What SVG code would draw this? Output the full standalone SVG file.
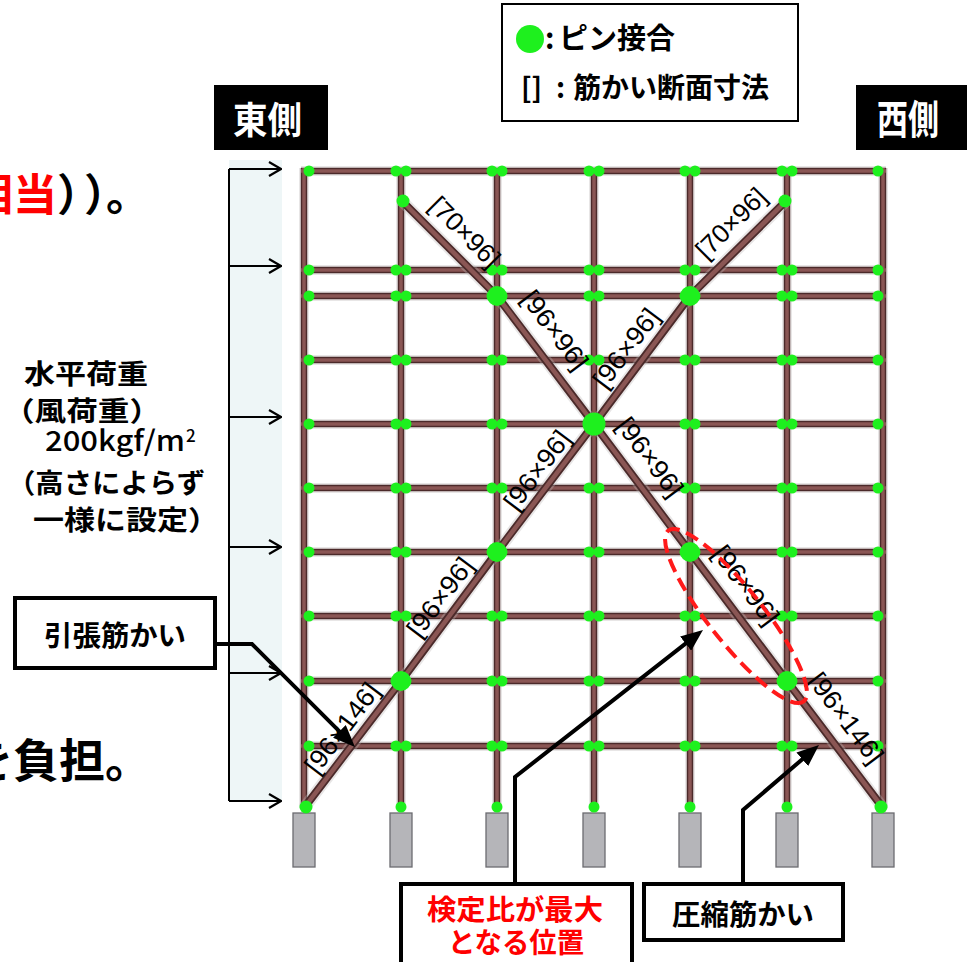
<svg xmlns="http://www.w3.org/2000/svg" xmlns:xlink="http://www.w3.org/1999/xlink" width="967" height="962" viewBox="0 0 967 962">
<style>
.jp{font-family:'Noto Sans CJK JP','Noto Sans CJK SC',sans-serif;font-weight:bold}
.lbl{font-family:'Liberation Sans',Arial,sans-serif;font-size:26px;fill:#000;text-anchor:middle}
.box{fill:#fff;stroke:#000;stroke-width:4}
.sup{fill:#b5b5b9;stroke:#6c6c70;stroke-width:1.3}
.ld{fill:none;stroke:#000;stroke-width:4;stroke-linejoin:miter}
.la{fill:none;stroke:#000;stroke-width:2}
</style>
<defs>
<marker id="open" viewBox="0 0 14 16" refX="13" refY="8" markerWidth="14" markerHeight="16" markerUnits="userSpaceOnUse" orient="auto"><path d="M1,1 L13,8 L1,15" fill="none" stroke="#000" stroke-width="2.2"/></marker>
<marker id="solid" viewBox="0 0 22 18" refX="12" refY="9" markerWidth="22" markerHeight="18" markerUnits="userSpaceOnUse" orient="auto"><path d="M0,0 L22,9 L0,18 Z" fill="#000"/></marker>
<path id="grid" fill="none" d="M304,168V808 M401,168V808 M497,168V808 M594,168V808 M690,168V808 M787,168V808 M883,168V808 M301,171H886 M301,270H886 M301,296H886 M301,360H886 M301,424H886 M301,488H886 M301,552H886 M301,616H886 M301,681H886 M301,746H886"/>
<path id="braces" fill="none" d="M401,200 L497,296 L594,424 L690,552 L787,681 L883,808 M304,808 L401,681 L497,552 L594,424 L690,296 L787,200"/>
<g id="dotrow" fill="#1ef01e">
<circle cx="309" cy="0" r="5.5"/><circle cx="396" cy="0" r="5.5"/><circle cx="406" cy="0" r="5.5"/><circle cx="492" cy="0" r="5.5"/><circle cx="502" cy="0" r="5.5"/><circle cx="589" cy="0" r="5.5"/><circle cx="599" cy="0" r="5.5"/><circle cx="685" cy="0" r="5.5"/><circle cx="695" cy="0" r="5.5"/><circle cx="782" cy="0" r="5.5"/><circle cx="792" cy="0" r="5.5"/><circle cx="878" cy="0" r="5.5"/>
</g>
</defs>
<rect width="967" height="962" fill="#fff"/>

<!-- cut-off body text at left -->
<g id="bodytext">
<text class="jp" y="211" font-size="44" fill="#000"><tspan x="-31" fill="#ff0000">相当</tspan><tspan x="57">）</tspan><tspan x="84">）</tspan><tspan x="106">。</tspan></text>
<text class="jp" x="-33" y="777" font-size="46" fill="#000">を負担。</text>
</g>

<!-- load -->
<g id="load">
<rect x="229" y="160" width="53" height="642" fill="#eef6f7"/>
<path class="la" d="M229,169V801"/>
<path class="la" marker-end="url(#open)" d="M229,169H281"/>
<path class="la" marker-end="url(#open)" d="M229,266H281"/>
<path class="la" marker-end="url(#open)" d="M229,417H281"/>
<path class="la" marker-end="url(#open)" d="M229,547H281"/>
<path class="la" marker-end="url(#open)" d="M229,673H281"/>
<path class="la" marker-end="url(#open)" d="M229,801H281"/>
<g id="loadtext" class="jp" fill="#000">
<text x="24" y="384" font-size="27" textLength="124" lengthAdjust="spacingAndGlyphs">水平荷重</text>
<text x="3" y="421" font-size="27" textLength="158" lengthAdjust="spacingAndGlyphs">（風荷重）</text>
<text x="45" y="451" font-size="28" font-weight="500" textLength="140" lengthAdjust="spacingAndGlyphs">200kgf/m</text>
<text x="186" y="442" font-size="17" font-weight="500">2</text>
<text x="7" y="493" font-size="27" textLength="198" lengthAdjust="spacingAndGlyphs">（高さによらず</text>
<text x="33" y="530" font-size="27" textLength="186" lengthAdjust="spacingAndGlyphs">一様に設定）</text>
</g>
</g>

<!-- side labels -->
<g id="east">
<rect x="214" y="85" width="114" height="65" fill="#000"/>
<text class="jp" x="233" y="134" font-size="37" fill="#fff" textLength="69" lengthAdjust="spacingAndGlyphs">東側</text>
</g>
<g id="west">
<rect x="856" y="85" width="111" height="65" fill="#000"/>
<text class="jp" x="877" y="134" font-size="40" fill="#fff" textLength="62" lengthAdjust="spacingAndGlyphs">西側</text>
</g>

<!-- legend -->
<g id="legend">
<rect x="502" y="4" width="296" height="117" fill="#fff" stroke="#000" stroke-width="2"/>
<circle cx="530" cy="39" r="14" fill="#1ef01e"/>
<text class="jp" y="49" font-size="29" fill="#000"><tspan x="545">:</tspan><tspan x="559">ピン接合</tspan></text>
<text class="jp" y="98" font-size="28" fill="#000"><tspan x="521">[]</tspan><tspan x="556">:</tspan><tspan x="573">筋かい断面寸法</tspan></text>
</g>

<!-- supports -->
<g id="supports">
<rect class="sup" x="293" y="813" width="22" height="54"/>
<rect class="sup" x="390" y="813" width="22" height="54"/>
<rect class="sup" x="486" y="813" width="22" height="54"/>
<rect class="sup" x="583" y="813" width="22" height="54"/>
<rect class="sup" x="679" y="813" width="22" height="54"/>
<rect class="sup" x="776" y="813" width="22" height="54"/>
<rect class="sup" x="872" y="813" width="22" height="54"/>
</g>

<!-- frame -->
<g id="frame">
<use xlink:href="#grid" stroke="#bdb6b6" stroke-width="10" opacity="0.35"/>
<use xlink:href="#grid" stroke="#4b2a2a" stroke-width="6.5"/>
<use xlink:href="#grid" stroke="#8a5654" stroke-width="3.5"/>
</g>
<g id="bracing">
<use xlink:href="#braces" stroke="#bdb6b6" stroke-width="12" opacity="0.35" stroke-linejoin="round"/>
<use xlink:href="#braces" stroke="#4b2a2a" stroke-width="8" stroke-linejoin="round"/>
<use xlink:href="#braces" stroke="#8a5654" stroke-width="4.5" stroke-linejoin="round"/>
</g>

<!-- pins -->
<g id="pins" fill="#1ef01e">
<use xlink:href="#dotrow" y="171"/>
<use xlink:href="#dotrow" y="270"/>
<use xlink:href="#dotrow" y="296"/>
<use xlink:href="#dotrow" y="360"/>
<use xlink:href="#dotrow" y="424"/>
<use xlink:href="#dotrow" y="488"/>
<use xlink:href="#dotrow" y="552"/>
<use xlink:href="#dotrow" y="616"/>
<use xlink:href="#dotrow" y="681"/>
<use xlink:href="#dotrow" y="746"/>
<circle cx="306" cy="807" r="6.5"/><circle cx="401" cy="807" r="5.5"/><circle cx="497" cy="807" r="5.5"/><circle cx="594" cy="807" r="5.5"/><circle cx="690" cy="807" r="5.5"/><circle cx="787" cy="807" r="5.5"/><circle cx="881" cy="807" r="6.5"/>
<circle cx="403" cy="201" r="6.5"/><circle cx="785" cy="201" r="6.5"/>
<circle cx="497" cy="296" r="10"/><circle cx="690" cy="296" r="10"/>
<circle cx="594" cy="424" r="11.5"/>
<circle cx="497" cy="552" r="10"/><circle cx="690" cy="552" r="10"/>
<circle cx="401" cy="681" r="10"/><circle cx="787" cy="681" r="10"/>
</g>

<!-- brace section labels -->
<g id="braceLabels">
<text class="lbl" transform="translate(465,232) rotate(45)" y="9" textLength="88" lengthAdjust="spacingAndGlyphs">[70×96]</text>
<text class="lbl" transform="translate(555,330) rotate(53)" y="9" textLength="92" lengthAdjust="spacingAndGlyphs">[96×96]</text>
<text class="lbl" transform="translate(626,348) rotate(-53)" y="9" textLength="92" lengthAdjust="spacingAndGlyphs">[96×96]</text>
<text class="lbl" transform="translate(731,223) rotate(-45)" y="9" textLength="88" lengthAdjust="spacingAndGlyphs">[70×96]</text>
<text class="lbl" transform="translate(650,457) rotate(53)" y="9" textLength="92" lengthAdjust="spacingAndGlyphs">[96×96]</text>
<text class="lbl" transform="translate(537,470) rotate(-53)" y="9" textLength="92" lengthAdjust="spacingAndGlyphs">[96×96]</text>
<text class="lbl" transform="translate(440,597) rotate(-53)" y="9" textLength="92" lengthAdjust="spacingAndGlyphs">[96×96]</text>
<text class="lbl" transform="translate(746,585) rotate(53)" y="9" textLength="92" lengthAdjust="spacingAndGlyphs">[96×96]</text>
<text class="lbl" transform="translate(342,728) rotate(-53)" y="9" textLength="106" lengthAdjust="spacingAndGlyphs">[96×146]</text>
<text class="lbl" transform="translate(846,718) rotate(53)" y="9" textLength="106" lengthAdjust="spacingAndGlyphs">[96×146]</text>
</g>

<!-- highlight -->
<ellipse id="maxRatio" cx="736" cy="616" rx="109" ry="27" transform="rotate(51.6 736 616)" fill="none" stroke="#ff1a1a" stroke-width="4" stroke-dasharray="14 7"/>

<!-- connectors -->
<g id="connectors">
<path class="ld" marker-end="url(#solid)" d="M215,644 H252 L347.9,739.9"/>
<path class="ld" marker-end="url(#solid)" d="M515,884 V777 L695.1,636.2"/>
<path class="ld" marker-end="url(#solid)" d="M743,884 V810 L811.4,751.5"/>
</g>

<!-- callouts -->
<g id="tension">
<rect class="box" x="15" y="598" width="200" height="70"/>
<text class="jp" x="44" y="646" font-size="28" fill="#000" textLength="142" lengthAdjust="spacingAndGlyphs">引張筋かい</text>
</g>
<g id="maxpos">
<rect class="box" x="401" y="884" width="231" height="80"/>
<text class="jp" x="427" y="920" font-size="28" fill="#ff0000" textLength="176" lengthAdjust="spacingAndGlyphs">検定比が最大</text>
<text class="jp" x="448" y="953" font-size="28" fill="#ff0000" textLength="136" lengthAdjust="spacingAndGlyphs">となる位置</text>
</g>
<g id="compression">
<rect class="box" x="644" y="884" width="199" height="56"/>
<text class="jp" x="672" y="925" font-size="28" fill="#000" textLength="142" lengthAdjust="spacingAndGlyphs">圧縮筋かい</text>
</g>
</svg>
